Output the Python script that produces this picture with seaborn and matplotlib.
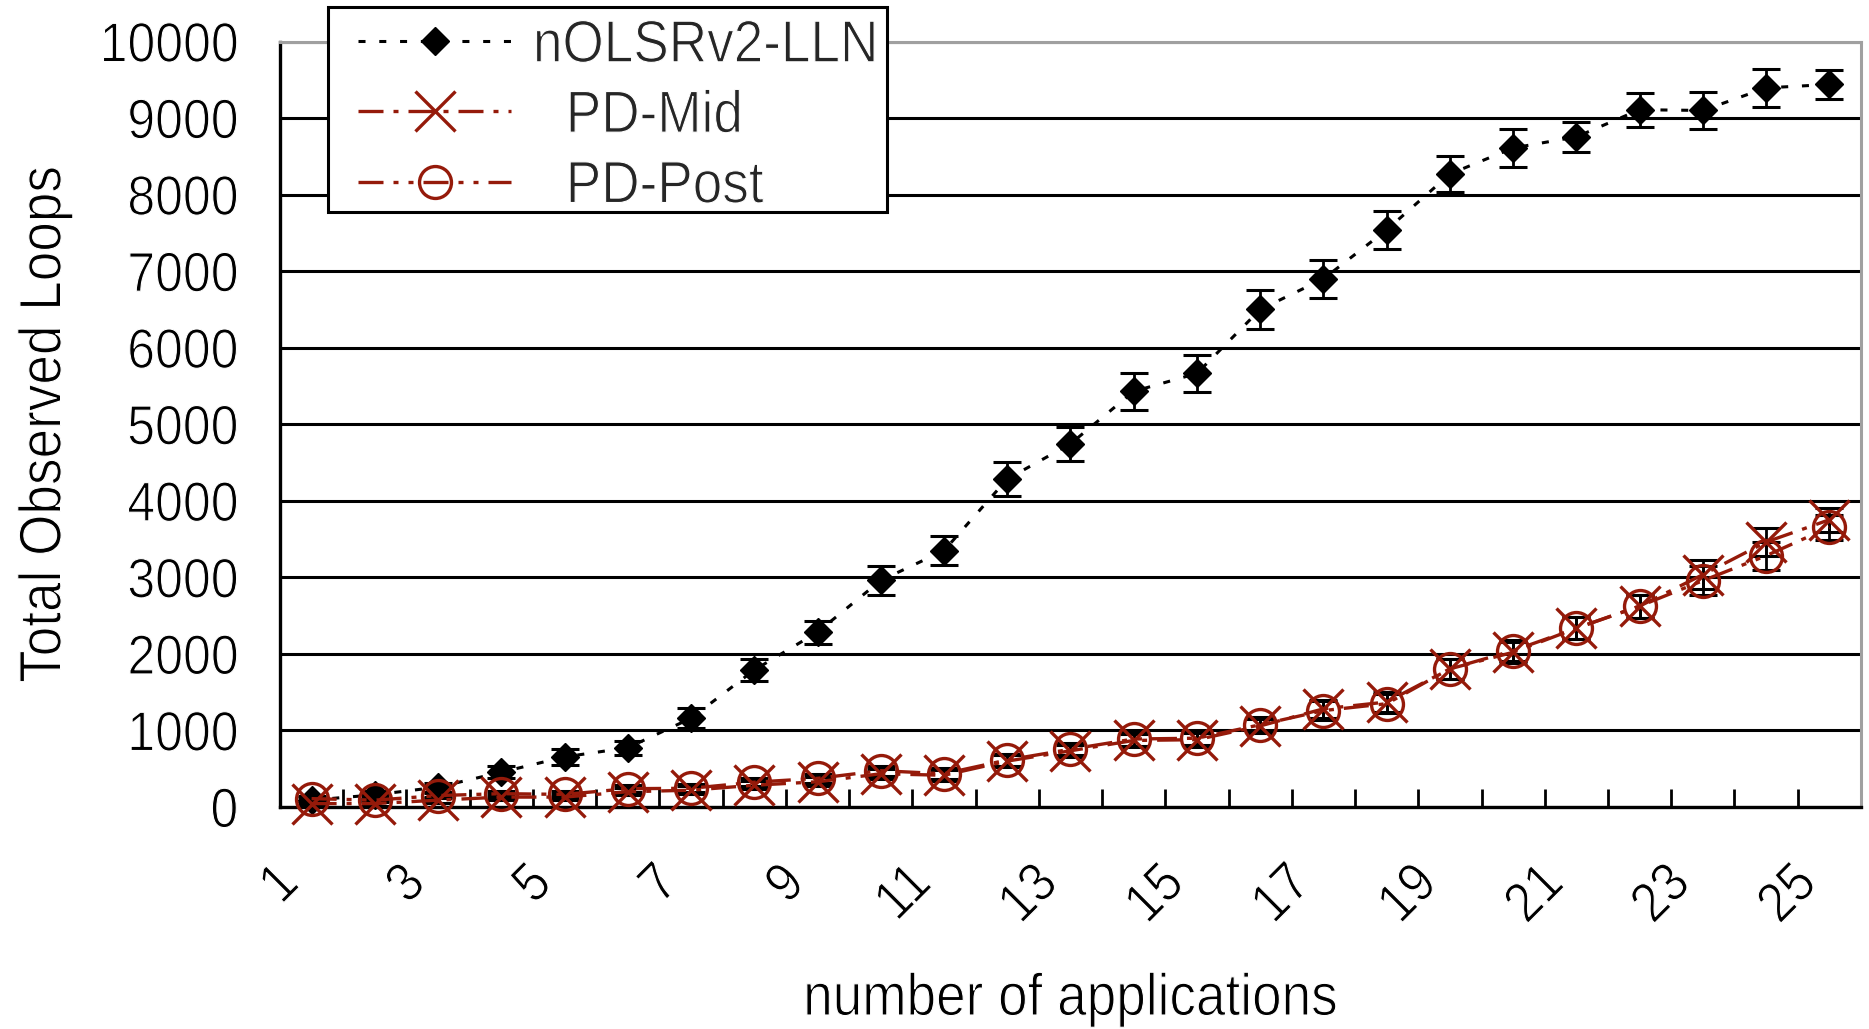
import numpy as np
import pandas as pd
import matplotlib
matplotlib.use("Agg")
import matplotlib.pyplot as plt
from matplotlib.patches import Rectangle
from matplotlib.patheffects import AbstractPathEffect
from matplotlib.transforms import Affine2D, ScaledTranslation
import seaborn as sns

# ---- data -------------------------------------------------------------
applications = list(range(1, 26))
x_tick_values = list(range(1, 26, 2))
x_tick_labels = [str(v) for v in x_tick_values]
y_tick_values = list(range(0, 10001, 1000))

nolsr_loops = [90, 160, 260, 455, 655, 775, 1160, 1790, 2285, 2960,
               3350, 4285, 4745, 5430, 5665, 6500, 6900, 7540, 8270, 8610,
               8755, 9110, 9100, 9395, 9440]
nolsr_err = [40, 50, 60, 80, 100, 90, 130, 145, 150, 195,
             185, 225, 225, 245, 245, 250, 250, 245, 230, 250,
             195, 220, 245, 245, 195]

pd_mid_loops = [45, 45, 90, 130, 130, 200, 220, 285, 330, 435,
                415, 600, 735, 870, 880, 1060, 1283, 1372, 1806, 2022,
                2336, 2625, 3036, 3462, 3753]
pd_mid_err = [30, 30, 35, 40, 40, 45, 50, 55, 60, 65,
              70, 75, 80, 85, 90, 95, 120, 125, 130, 140,
              145, 150, 190, 180, 160]

pd_post_loops = [110, 90, 150, 175, 165, 240, 245, 325, 375, 475,
                 435, 615, 755, 889, 899, 1075, 1260, 1350, 1806, 2043,
                 2336, 2625, 2957, 3283, 3655]
pd_post_err = [30, 30, 35, 40, 40, 45, 50, 55, 60, 65,
               70, 75, 80, 85, 90, 95, 120, 125, 130, 140,
               145, 150, 190, 180, 160]

series_names = ["nOLSRv2-LLN", "PD-Mid", "PD-Post"]
legend_labels = ["nOLSRv2-LLN", "  PD-Mid", "  PD-Post"]

df = pd.DataFrame({
    "applications": applications,
    "nOLSRv2-LLN": nolsr_loops,
    "PD-Mid": pd_mid_loops,
    "PD-Post": pd_post_loops,
})
errors = {"nOLSRv2-LLN": nolsr_err, "PD-Mid": pd_mid_err, "PD-Post": pd_post_err}


class Condense(AbstractPathEffect):
    """Squeeze glyph outlines along the baseline and trim them slightly thinner."""

    def __init__(self, factor=0.9, anchor="left", trim=0.8):
        super().__init__()
        self.factor = factor
        self.anchor = anchor
        self.trim = trim

    def draw_path(self, renderer, gc, tpath, affine, rgbFace=None):
        ext = tpath.get_extents()
        if self.anchor == "right":
            x0 = ext.x1
        elif self.anchor == "center":
            x0 = 0.5 * (ext.x0 + ext.x1)
        else:
            x0 = ext.x0
        squeeze = Affine2D().translate(-x0, 0).scale(self.factor, 1.0).translate(x0, 0)
        renderer.draw_path(gc, tpath, squeeze + affine, rgbFace)
        if self.trim > 0:
            gc_trim = renderer.new_gc()
            gc_trim.copy_properties(gc)
            gc_trim.set_linewidth(self.trim)
            gc_trim.set_foreground("white")
            renderer.draw_path(gc_trim, tpath, squeeze + affine, None)
            gc_trim.restore()


# ---- style --------------------------------------------------------------
sns.set_theme(style="white")
plt.rcParams["font.family"] = ["Liberation Sans", "DejaVu Sans"]

SQUEEZE = 0.9
DARK_RED = "#951a0a"
styles = {
    "nOLSRv2-LLN": dict(color="black", linewidth=2.2, linestyle=(0, (2.3, 4.5)),
                        marker="D", markersize=14, markerfacecolor="black",
                        markeredgecolor="black", markeredgewidth=1.0),
    "PD-Mid": dict(color=DARK_RED, linewidth=2.4, linestyle=(0, (7.5, 3.0, 1.5, 3.0)),
                   marker="x", markersize=29, markerfacecolor=DARK_RED,
                   markeredgecolor=DARK_RED, markeredgewidth=2.4),
    "PD-Post": dict(color=DARK_RED, linewidth=2.4,
                    linestyle=(0, (7.5, 3.0, 1.5, 3.0, 1.5, 3.0)),
                    marker="o", markersize=23, markerfacecolor="none",
                    markeredgecolor=DARK_RED, markeredgewidth=2.4),
}

fig = plt.figure(figsize=(18.69, 10.29), dpi=100)
ax = fig.add_axes([0.1498, 0.2157, 0.8459, 0.7439])

handles = []
for name in series_names:
    ax.errorbar(df["applications"], df[name], yerr=errors[name], fmt="none",
                ecolor="black", elinewidth=2.0, capsize=10, capthick=2.2,
                zorder=2.6, clip_on=False)
    sns.lineplot(data=df, x="applications", y=name, ax=ax, estimator=None,
                 errorbar=None, legend=False, clip_on=False, zorder=3,
                 **styles[name])
    handles.append(ax.lines[-1])

# ---- axes ---------------------------------------------------------------
ax.set_xlim(0.5, 25.5)
ax.set_ylim(0, 10000)

ax.set_xticks(x_tick_values)
ax.set_xticklabels(x_tick_labels, rotation=45, ha="right", va="top")
ax.set_xticks(np.arange(1.5, 26, 1), minor=True)
ax.tick_params(axis="x", which="major", length=0, pad=36, labelsize=40,
               colors="black", bottom=True)
ax.tick_params(axis="x", which="minor", direction="in", length=13, width=2.0,
               color="black", bottom=True, top=False)

ax.set_yticks(y_tick_values)
ax.set_yticklabels([str(v) for v in y_tick_values])
ax.tick_params(axis="y", which="major", direction="in", length=14, width=2.0,
               color="black", pad=30, labelsize=40, left=True, labelcolor="black")

shift = ScaledTranslation(-2 / 100, 0, fig.dpi_scale_trans)
for lbl in ax.get_xticklabels():
    lbl.set_transform(lbl.get_transform() + shift)
    lbl.set_path_effects([Condense(SQUEEZE, "right")])
for lbl in ax.get_yticklabels():
    lbl.set_path_effects([Condense(SQUEEZE, "right")])

ax.set_axisbelow(True)
ax.grid(axis="y", color="black", linewidth=2.2)
ax.grid(axis="x", visible=False)

for side in ("left", "bottom"):
    ax.spines[side].set_color("black")
    ax.spines[side].set_linewidth(2.4)
for side in ("top", "right"):
    ax.spines[side].set_color("#a0a0a0")
    ax.spines[side].set_linewidth(2.2)

ax.set_ylabel("Total Observed Loops", fontsize=42.5, color="black")
ax.yaxis.set_label_coords(-0.1312, 0.5)
ax.yaxis.label.set_path_effects([Condense(SQUEEZE, "center")])
ax.set_xlabel("number of applications", fontsize=42.5, color="black")
ax.xaxis.set_label_coords(0.5, -0.2155)
ax.xaxis.label.set_path_effects([Condense(SQUEEZE, "center")])

# ---- legend -------------------------------------------------------------
frame = Rectangle((328 / 1869, 1 - 212 / 1029), (887 - 328) / 1869, (212 - 7) / 1029,
                  transform=fig.transFigure, facecolor="white", edgecolor="black",
                  linewidth=2.2, zorder=9)
fig.patches.append(frame)

leg = fig.legend(handles, legend_labels, loc="upper left",
                 bbox_to_anchor=(346 / 1869, 1 - 7 / 1029),
                 bbox_transform=fig.transFigure, fontsize=42.5,
                 handlelength=2.6, handletextpad=0.36, borderpad=0.2,
                 labelspacing=0.26, borderaxespad=0, frameon=False, numpoints=1)
leg.set_zorder(10)
for txt in leg.get_texts():
    txt.set_path_effects([Condense(SQUEEZE, "left")])

fig.savefig("out.png", dpi=100, facecolor="white")
